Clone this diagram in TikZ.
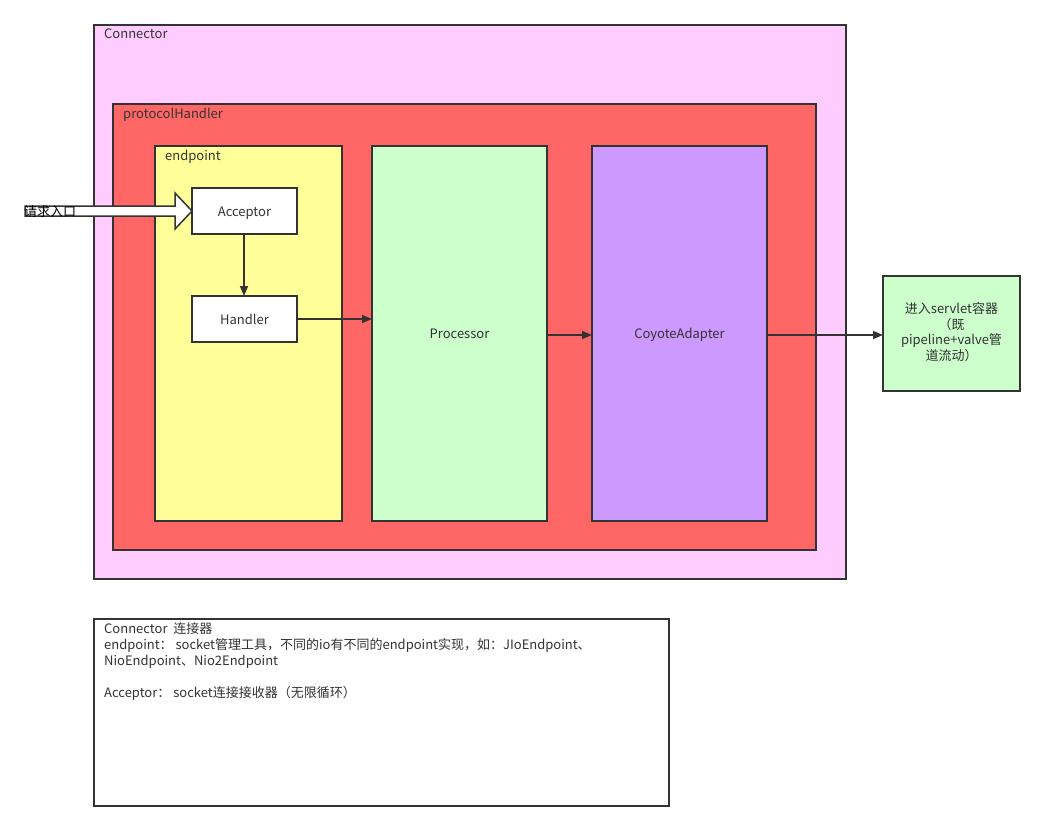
\documentclass[tikz,border=0pt]{standalone}
\usepackage{fontspec}
\setmainfont{Noto Sans CJK SC}
\usetikzlibrary{arrows.meta}
\definecolor{pinkbg}{HTML}{FFCCFF}
\definecolor{redbg}{HTML}{FF6666}
\definecolor{yellowbg}{HTML}{FFFF99}
\definecolor{greenbg}{HTML}{CCFFCC}
\definecolor{purplebg}{HTML}{CC99FF}
\definecolor{edge}{HTML}{333333}
\tikzset{
  box/.style={draw=edge, line width=2pt, inner sep=0pt, outer sep=0pt},
  lbl/.style={anchor=north west, inner sep=0pt, text=edge, font=\fontsize{13}{15}\selectfont},
  txt/.style={text=edge, font=\fontsize{13}{15}\selectfont, align=center, text height=13.5pt, text depth=3pt},
  conn/.style={draw=edge, line width=1.6pt, -{Triangle[length=10pt,width=8pt]}},
}
\begin{document}
\begin{tikzpicture}[x=1pt,y=-1pt]
\useasboundingbox (0,0) rectangle (1045,833);
% containers
\draw[box, fill=pinkbg] (94,25) rectangle (846,579);
\node[lbl] (lconn) at (104,29) {Connector};
\draw[box, fill=redbg] (113,104) rectangle (816,550);
\node[lbl] (lph) at (123,108) {protocolHandler};
\draw[box, fill=yellowbg] (155,146) rectangle (342,521);
\node[lbl] (lep) at (165,150) {endpoint};
% nodes
\node[box, fill=white, minimum width=105pt, minimum height=46pt, txt] (acc) at (244.5,211) {Acceptor};
\node[box, fill=white, minimum width=105pt, minimum height=46pt, txt] (hdl) at (244.5,319) {Handler};
\node[box, fill=greenbg, minimum width=175pt, minimum height=375pt, txt] (proc) at (459.5,333.5) {Processor};
\node[box, fill=purplebg, minimum width=175pt, minimum height=375pt, txt] (coy) at (679.5,333.5) {CoyoteAdapter};
\node[box, fill=greenbg, minimum width=137pt, minimum height=115pt] (srv) at (951.5,333.5) {};
\node[text=edge, align=center, font=\fontsize{13}{15.7}\selectfont, inner sep=0pt] (srvtxt) at ([yshift=1.5pt]srv.center) {进入servlet容器\\（既\\pipeline+valve管\\道流动）};
% block arrow
\coordinate (bstart) at (25,211);
\draw[draw=edge, line width=1.5pt, fill=white, line join=miter]
  (25,206) -- (175,206) -- (175,193) -- (acc.west) -- (175,229) -- (175,216) -- (25,216) -- cycle;
\node[anchor=west, inner sep=0pt, text=black, font=\fontsize{13}{15}\selectfont] (entry) at (24,212) {请求入口};
% connectors
\coordinate (ay) at (0,335);
\draw[conn] ([xshift=-0.5pt]acc.south) -- ([xshift=-0.5pt]hdl.north);
\draw[conn] (hdl.east) -- (proc.west |- hdl.east);
\draw[conn] (proc.east |- ay) -- (coy.west |- ay);
\draw[conn] (coy.east |- ay) -- (srv.west |- ay);
% legend box
\draw[box, fill=white] (94,619) rectangle (669,806);
\node[lbl, align=left, font=\fontsize{13}{16.3}\selectfont] (legend) at (104,622) {Connector\ \ 连接器\\endpoint： socket管理工具，不同的io有不同的endpoint实现，如：JIoEndpoint、\\NioEndpoint、Nio2Endpoint\\[15pt]Acceptor： socket连接接收器（无限循环）};
\end{tikzpicture}
\end{document}
